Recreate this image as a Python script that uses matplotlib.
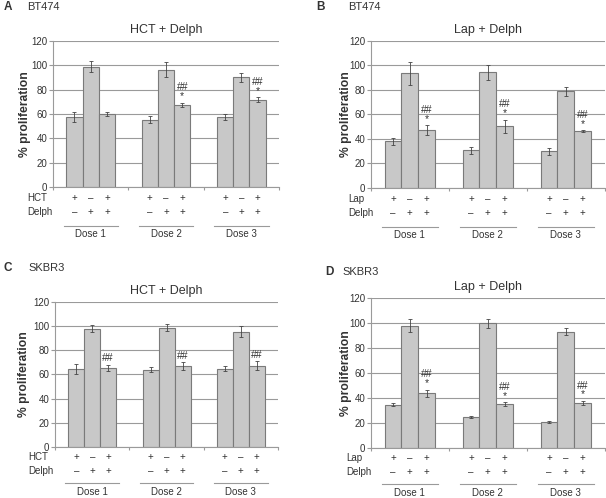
import matplotlib.pyplot as plt

plt.rcParams['font.family'] = ['Liberation Sans', 'DejaVu Sans']

# === データ ===
doses = ["Dose 1", "Dose 2", "Dose 3"]
signs_top = ["+", "\u2013", "+"]
signs_delph = ["\u2013", "+", "+"]

# A: BT474 HCT + Delph
a_vals = [[57.5, 99, 60], [55.3, 96.5, 67.4], [57.5, 90, 71.8]]
a_errs = [[4, 4.5, 1.8], [3, 6, 2], [2.5, 4, 2]]
a_marks = ["", "##\n*", "##\n*"]

# B: BT474 Lap + Delph
b_vals = [[38, 93.5, 47.2], [30.8, 94.3, 50.4], [30, 78.8, 46.3]]
b_errs = [[3.2, 9.5, 4.2], [3, 6.5, 5.5], [2.7, 4, 1]]
b_marks = ["##\n*", "##\n*", "##\n*"]

# C: SKBR3 HCT + Delph
c_vals = [[64.5, 97.8, 65.6], [64, 98.6, 67], [64.8, 95.3, 67.3]]
c_errs = [[4, 3, 2.5], [2, 3, 3], [2, 4.5, 3.5]]
c_marks = ["##", "##", "##"]

# D: SKBR3 Lap + Delph
d_vals = [[34.8, 98, 43.7], [25.2, 99.7, 35.2], [20.8, 93.2, 36.2]]
d_errs = [[1, 5, 3], [0.8, 3.5, 1.5], [1, 3, 1.5]]
d_marks = ["##\n*", "##\n*", "##\n*"]

TXT = "#333333"
GRID = "#9a9a9a"
W, H = 606, 498

fig = plt.figure(figsize=(W / 100, H / 100), dpi=100)


def px(v):
    # ピクセル -> ポイント
    return v * 0.72


def panel(rect, title, drug, vals, errs, marks, rows_px, lab_dx, row_dx):
    ax = fig.add_axes(rect)
    w = 0.215
    for g in range(3):
        for j in range(3):
            x = g + 0.5 + (j - 1) * w
            ax.bar(x, vals[g][j], width=w, color="#c8c8c8", edgecolor="#7a7a7a",
                   linewidth=0.8, zorder=2)
            ax.errorbar(x, vals[g][j], yerr=errs[g][j], color="#444444",
                        elinewidth=0.6, capsize=1.5, capthick=0.6, zorder=3)
        if marks[g]:
            top = vals[g][2] + errs[g][2]
            ax.annotate(marks[g], (g + 0.5 + w, top), xytext=(0, 1),
                        textcoords="offset points", ha="center", va="bottom",
                        fontsize=7.5, color=TXT, linespacing=0.85)
    ax.set_xlim(0, 3)
    ax.set_ylim(0, 120)
    ax.set_yticks(range(0, 121, 20))
    ax.set_xticks([0, 1, 2, 3])
    ax.set_xticklabels([])
    ax.tick_params(axis="x", length=2, color=GRID)
    ax.tick_params(axis="y", length=3, color=GRID, labelsize=7, labelcolor=TXT, pad=1)
    ax.yaxis.grid(True, color=GRID, linewidth=0.8, zorder=0)
    ax.set_axisbelow(True)
    for s in ["top", "right"]:
        ax.spines[s].set_visible(False)
    for s in ["left", "bottom"]:
        ax.spines[s].set_color(GRID)
        ax.spines[s].set_linewidth(0.8)
    wpx = rect[2] * W
    h = rect[3] * H
    ax.set_ylabel("% proliferation", fontsize=8.7, fontweight="bold", color=TXT)
    ax.yaxis.set_label_coords(-lab_dx / wpx, 0.5)
    ax.set_title(title, fontsize=9, color=TXT, pad=6)

    # 下の +/- 表
    r1, r2, r3, r4 = rows_px
    tr = ax.get_xaxis_transform()
    ax.annotate(drug, (0, 0), xycoords="axes fraction", xytext=(px(-row_dx), px(-r1)),
                textcoords="offset points", ha="left", va="center", fontsize=7, color=TXT)
    ax.annotate("Delph", (0, 0), xycoords="axes fraction", xytext=(px(-row_dx), px(-r2)),
                textcoords="offset points", ha="left", va="center", fontsize=7, color=TXT)
    for g in range(3):
        for j in range(3):
            x = g + 0.5 + (j - 1) * w
            ax.annotate(signs_top[j], (x, 0), xycoords=tr, xytext=(0, px(-r1)),
                        textcoords="offset points", ha="center", va="center",
                        fontsize=7, color=TXT)
            ax.annotate(signs_delph[j], (x, 0), xycoords=tr, xytext=(0, px(-r2)),
                        textcoords="offset points", ha="center", va="center",
                        fontsize=7, color=TXT)
        ax.plot([g + 0.5 - 0.36, g + 0.5 + 0.36], [-r3 / h, -r3 / h], transform=tr,
                color=GRID, lw=0.8, clip_on=False)
        ax.annotate(doses[g], (g + 0.5, 0), xycoords=tr, xytext=(0, px(-r4)),
                    textcoords="offset points", ha="center", va="center",
                    fontsize=7, color=TXT)
    return ax


panel([0.0875, 0.6245, 0.373, 0.2932], "HCT + Delph", "HCT",
      a_vals, a_errs, a_marks, (11, 25, 39, 47), 22, 26)
panel([0.612, 0.6225, 0.386, 0.2952], "Lap + Delph", "Lap",
      b_vals, b_errs, b_marks, (11, 25, 39, 47), 19, 23)
panel([0.0908, 0.1024, 0.368, 0.2912], "HCT + Delph", "HCT",
      c_vals, c_errs, c_marks, (10, 24, 36, 45), 25, 27)
panel([0.612, 0.1004, 0.386, 0.3012], "Lap + Delph", "Lap",
      d_vals, d_errs, d_marks, (10, 24, 36, 45), 19, 25)

# パネル記号と細胞株
for (lx, cx, ly), letter, cell in [((4, 27, 7), "A", "BT474"), ((316, 348, 7), "B", "BT474"),
                                   ((4, 28, 268), "C", "SKBR3"), ((325, 342, 272), "D", "SKBR3")]:
    fig.text(lx / W, 1 - ly / H, letter, fontsize=8.5, fontweight="bold", color=TXT,
             ha="left", va="center")
    fig.text(cx / W, 1 - ly / H, cell, fontsize=8, color=TXT, ha="left", va="center")

plt.savefig("out.png", dpi=100)
